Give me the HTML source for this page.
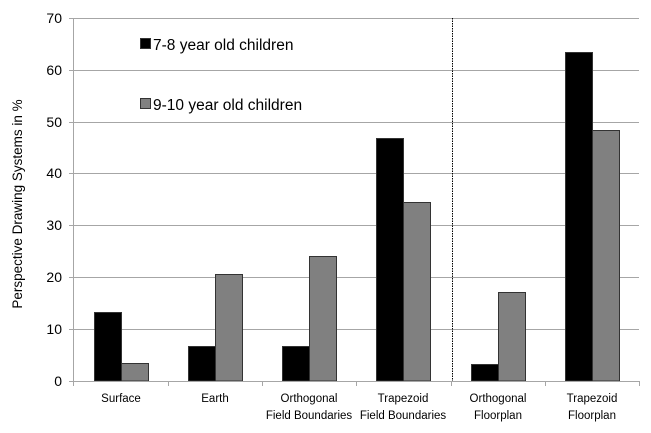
<!DOCTYPE html>
<html><head><style>body{margin:0;background:#fff}</style></head><body>
<svg width="651" height="428" xmlns="http://www.w3.org/2000/svg" font-family="Liberation Sans, sans-serif">
<g stroke="#a6a6a6" stroke-width="1">
<line x1="73" y1="18.5" x2="639" y2="18.5"/>
<line x1="73" y1="70.5" x2="639" y2="70.5"/>
<line x1="73" y1="122.5" x2="639" y2="122.5"/>
<line x1="73" y1="173.5" x2="639" y2="173.5"/>
<line x1="73" y1="225.5" x2="639" y2="225.5"/>
<line x1="73" y1="277.5" x2="639" y2="277.5"/>
<line x1="73" y1="329.5" x2="639" y2="329.5"/>
</g>
<g stroke="#333" stroke-width="1">
<rect x="94.5" y="312.5" width="27" height="68.5" fill="#000"/>
<rect x="121.5" y="363.5" width="27" height="17.5" fill="#808080"/>
<rect x="188.5" y="346.5" width="27" height="34.5" fill="#000"/>
<rect x="215.5" y="274.5" width="27" height="106.5" fill="#808080"/>
<rect x="282.5" y="346.5" width="27" height="34.5" fill="#000"/>
<rect x="309.5" y="256.5" width="27" height="124.5" fill="#808080"/>
<rect x="376.5" y="138.5" width="27" height="242.5" fill="#000"/>
<rect x="403.5" y="202.5" width="27" height="178.5" fill="#808080"/>
<rect x="471.5" y="364.5" width="27" height="16.5" fill="#000"/>
<rect x="498.5" y="292.5" width="27" height="88.5" fill="#808080"/>
<rect x="565.5" y="52.5" width="27" height="328.5" fill="#000"/>
<rect x="592.5" y="130.5" width="27" height="250.5" fill="#808080"/>
</g>
<g stroke="#a6a6a6" stroke-width="1">
<line x1="73.5" y1="18" x2="73.5" y2="381"/>
<line x1="69" y1="381.5" x2="639" y2="381.5"/>
<line x1="69" y1="18.5" x2="73" y2="18.5"/><line x1="69" y1="70.5" x2="73" y2="70.5"/><line x1="69" y1="122.5" x2="73" y2="122.5"/><line x1="69" y1="173.5" x2="73" y2="173.5"/><line x1="69" y1="225.5" x2="73" y2="225.5"/><line x1="69" y1="277.5" x2="73" y2="277.5"/><line x1="69" y1="329.5" x2="73" y2="329.5"/>
<line x1="73.5" y1="381" x2="73.5" y2="386"/><line x1="168.5" y1="381" x2="168.5" y2="386"/><line x1="262.5" y1="381" x2="262.5" y2="386"/><line x1="356.5" y1="381" x2="356.5" y2="386"/><line x1="451.5" y1="381" x2="451.5" y2="386"/><line x1="545.5" y1="381" x2="545.5" y2="386"/><line x1="639.5" y1="381" x2="639.5" y2="386"/>
</g>
<line x1="452.5" y1="18" x2="452.5" y2="381" stroke="#000" stroke-width="1" stroke-dasharray="1.5,1"/>
<g font-size="14" text-anchor="end" fill="#000">
<text x="62" y="23">70</text><text x="62" y="75">60</text><text x="62" y="127">50</text><text x="62" y="178">40</text><text x="62" y="230">30</text><text x="62" y="282">20</text><text x="62" y="334">10</text><text x="62" y="386">0</text>
</g>
<g font-size="11.5" text-anchor="middle" fill="#000">
<text x="121" y="402">Surface</text>
<text x="215" y="402">Earth</text>
<text x="309" y="402">Orthogonal</text><text x="309" y="419">Field Boundaries</text>
<text x="403" y="402">Trapezoid</text><text x="403" y="419">Field Boundaries</text>
<text x="498" y="402">Orthogonal</text><text x="498" y="419">Floorplan</text>
<text x="592" y="402">Trapezoid</text><text x="592" y="419">Floorplan</text>
</g>
<text transform="translate(22,204) rotate(-90)" font-size="13.5" text-anchor="middle">Perspective Drawing Systems  in %</text>
<rect x="140.5" y="38.5" width="10" height="10" fill="#000" stroke="#333"/>
<text x="153" y="50" font-size="15.5">7-8 year old children</text>
<rect x="140.5" y="98.5" width="10" height="10" fill="#808080" stroke="#333"/>
<text x="153" y="110" font-size="15.5">9-10 year old children</text>
</svg>
</body></html>
